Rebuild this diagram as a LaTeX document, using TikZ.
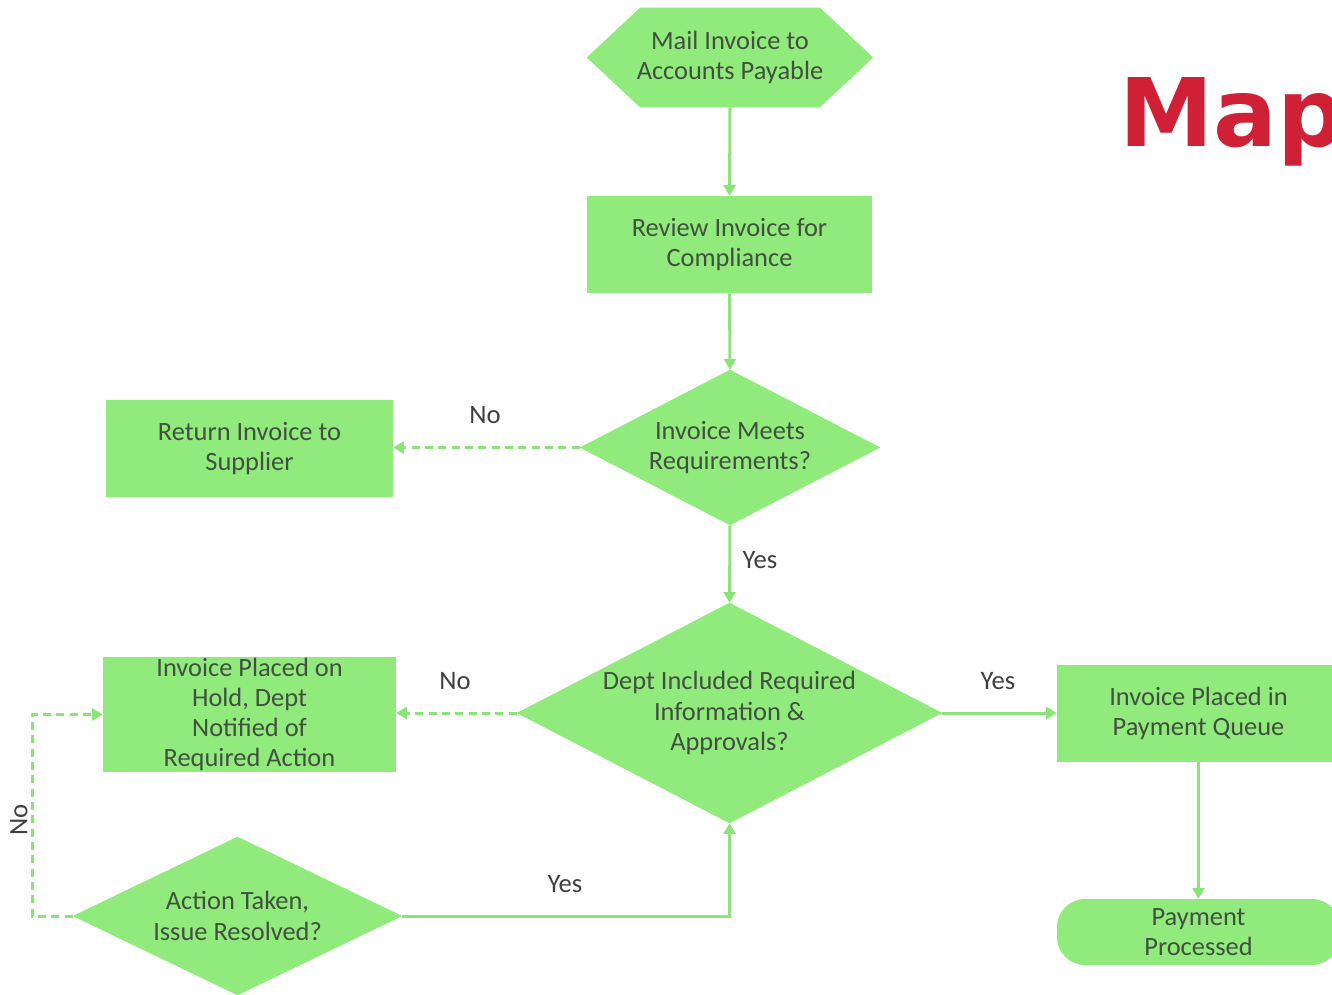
\documentclass[tikz,border=0pt]{standalone}
\usepackage{fontspec}
\setmainfont{Carlito}
\newfontfamily\mapfont{DejaVu Sans}
\usetikzlibrary{arrows.meta,backgrounds,calc}

\definecolor{flowfill}{RGB}{144,234,124}
\definecolor{flowline}{RGB}{140,228,120}
\definecolor{flowtext}{RGB}{66,80,64}
\definecolor{labeltext}{RGB}{64,64,64}
\definecolor{titlered}{RGB}{208,32,53}

\tikzset{
  boxtext/.style={align=center, text=flowtext, font=\fontsize{19.8}{23}\selectfont, inner sep=0pt},
  procbox/.style={boxtext, rectangle, fill=flowfill},
  shapebox/.style={boxtext, rectangle},
  flow/.style={draw=flowline, line width=2.25pt, -{Triangle[length=8pt,width=9pt]}},
  flowdash/.style={flow, dash pattern=on 6pt off 4pt},
  flowlabel/.style={text=labeltext, font=\fontsize{20}{22}\selectfont, inner sep=0pt},
}

\begin{document}
\begin{tikzpicture}[x=0.75pt,y=-0.75pt]
\useasboundingbox (0,0) rectangle (1332,995);

% title
\node[anchor=base west, inner sep=0pt, text=titlered,
      font=\mapfont\bfseries\fontsize{71}{71}\selectfont] (title) at (1119,147) {Map};

% nodes
\node[shapebox, minimum width=214.5pt, minimum height=74.25pt] (mail) at (730,57.5)
  {Mail Invoice to\\Accounts Payable};
\node[procbox, minimum width=213.75pt, minimum height=72.75pt] (review) at (729.5,244.5)
  {Review Invoice for\\Compliance};
\node[shapebox, minimum width=225pt, minimum height=116.25pt] (meets) at (730,447.5)
  {Invoice Meets\\Requirements?};
\node[procbox, minimum width=215.25pt, minimum height=72.75pt] (ret) at (249.5,448.5)
  {Return Invoice to\\Supplier};
\node[shapebox, minimum width=318.75pt, minimum height=165pt] (dept) at (729.5,713)
  {Dept Included Required\\Information \&\\Approvals?};
\node[procbox, minimum width=219.75pt, minimum height=86.25pt, font=\fontsize{19.8}{22.5}\selectfont] (hold) at (249.5,714.5)
  {Invoice Placed on\\Hold, Dept\\Notified of\\Required Action};
\node[procbox, minimum width=212.25pt, minimum height=72.75pt] (queue) at (1198.5,713.5)
  {Invoice Placed in\\Payment Queue};
\node[procbox, rounded corners=21pt, minimum width=212.25pt, minimum height=49.5pt] (paid) at (1198.5,932)
  {Payment\\Processed};
\node[shapebox, minimum width=246.75pt, minimum height=118.5pt] (act) at (237.5,916)
  {Action Taken,\\Issue Resolved?};

% hexagon and diamond outlines behind their texts
\begin{scope}[on background layer]
  \fill[flowfill] (mail.west) -- ([xshift=40pt]mail.north west) -- ([xshift=-40pt]mail.north east)
    -- (mail.east) -- ([xshift=-40pt]mail.south east) -- ([xshift=40pt]mail.south west) -- cycle;
  \fill[flowfill] (meets.north) -- (meets.east) -- (meets.south) -- (meets.west) -- cycle;
  \fill[flowfill] (dept.north) -- (dept.east) -- (dept.south) -- (dept.west) -- cycle;
  \fill[flowfill] (act.north) -- (act.east) -- (act.south) -- (act.west) -- cycle;
\end{scope}

% connectors
\draw[flow] (mail.south) -- (review.north);
\draw[flow] (review.south) -- (meets.north);
\draw[flowdash] (meets.west) -- (meets.west -| ret.east);
\draw[flow] (meets.south) -- (dept.north);
\draw[flowdash] (dept.west) -- (dept.west -| hold.east);
\draw[flow] (dept.east) -- (dept.east -| queue.west);
\draw[flow] (queue.south) -- (paid.north);
\draw[flow] (act.east) -| (dept.south);
\coordinate (bend) at (32,916);
\draw[flowdash] (act.west) -- (bend) |- (hold.west);

% connector labels
\node[flowlabel] (noA) at (485,415) {No};
\node[flowlabel] (yesA) at (760,560) {Yes};
\node[flowlabel] (noB) at (455,681) {No};
\node[flowlabel] (yesB) at (998,681) {Yes};
\node[flowlabel] (yesC) at (565,884) {Yes};
\node[flowlabel, rotate=90] (noC) at (19,820) {No};
\end{tikzpicture}
\end{document}
